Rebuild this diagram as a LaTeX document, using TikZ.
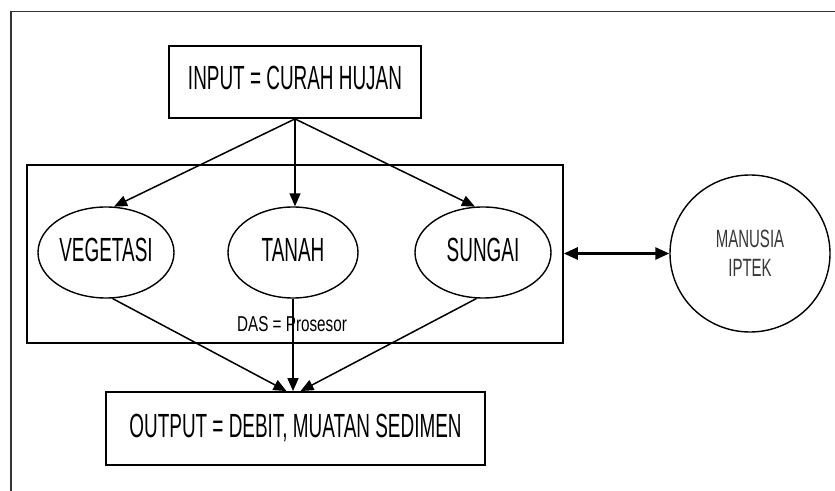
\documentclass[tikz,border=0pt]{standalone}
\usepackage{fontspec}
\newfontfamily\bignarrow[FakeStretch=0.565]{Liberation Sans}
\newfontfamily\smallnarrow[FakeStretch=0.71]{Liberation Sans}
\newfontfamily\circnarrow[FakeStretch=0.6]{Liberation Sans}
\usetikzlibrary{shapes.geometric,arrows.meta}

\begin{document}
\begin{tikzpicture}[x=1bp,y=-1bp,
  bigtext/.style={font=\bignarrow\fontsize{33.5bp}{36bp}\selectfont},
  smalltext/.style={font=\smallnarrow\fontsize{21.5bp}{29bp}\selectfont},
  circtext/.style={font=\circnarrow\fontsize{25bp}{29.5bp}\selectfont},
  rectbox/.style={draw,line width=1.8bp,inner sep=0pt,bigtext},
  oval/.style={draw,ellipse,line width=1.4bp,inner sep=0pt,bigtext,
    minimum width=136bp,minimum height=91bp,text depth=5bp},
  flow/.style={line width=1.5bp,-{Triangle[length=13bp,width=11bp]}},
  link/.style={line width=2.6bp,{Triangle[length=14bp,width=12bp]}-{Triangle[length=14bp,width=12bp]}}
]
\useasboundingbox (0,0) rectangle (835,491);
\fill[white] (0,0) rectangle (835,491);

% outer frame (only its top and left edges lie within the page)
\coordinate (fbl) at (11,491);
\coordinate (ftl) at (11,11.5);
\coordinate (ftr) at (835,11.5);
\draw[line width=1.6bp,black!80] (fbl) -- (ftl) -- (ftr);

% input and output boxes
\node[rectbox,minimum width=252bp,minimum height=72bp,text depth=9bp]
  (in) at (295,82) {INPUT = CURAH HUJAN};
\node[rectbox,minimum width=379bp,minimum height=73bp,text depth=6bp]
  (out) at (295.5,428.5) {OUTPUT = DEBIT, MUATAN SEDIMEN};

% watershed (process) frame
\node[draw,line width=1.5bp,minimum width=536bp,minimum height=178bp,inner sep=0pt]
  (das) at (295,254) {};
\node[smalltext,inner sep=0pt] (daslabel) at (292,324.5) {DAS = Prosesor};

% components of the watershed
\node[oval] (veg) at (106,252.5) {VEGETASI};
\node[oval,minimum width=130bp] (tan) at (293,252.5) {TANAH};
\node[oval] (sun) at (483,252.5) {SUNGAI};

% human factor
\node[draw,ellipse,line width=1.4bp,minimum width=160bp,minimum height=157bp,
  inner sep=0pt,circtext,align=center,text=black!78] (man) at (750,253.5)
  {MANUSIA\\IPTEK};

% rainfall into the components
\draw[flow] (in.south) -- (veg.80);
\draw[flow] (in.south) -- (in.south |- tan.north);
\draw[flow] (in.south) -- (sun.100);

% components into the output
\coordinate (o1) at ([xshift=-9bp]out.north);
\coordinate (o3) at ([xshift=5bp]out.north);
\draw[flow] (veg.-82) -- (o1);
\draw[flow] (tan.south) -- (tan.south |- out.north);
\draw[flow] (sun.-98) -- (o3);

% interaction between people and the watershed
\draw[link] (das.east |- man.west) -- (man.west);
\end{tikzpicture}
\end{document}
